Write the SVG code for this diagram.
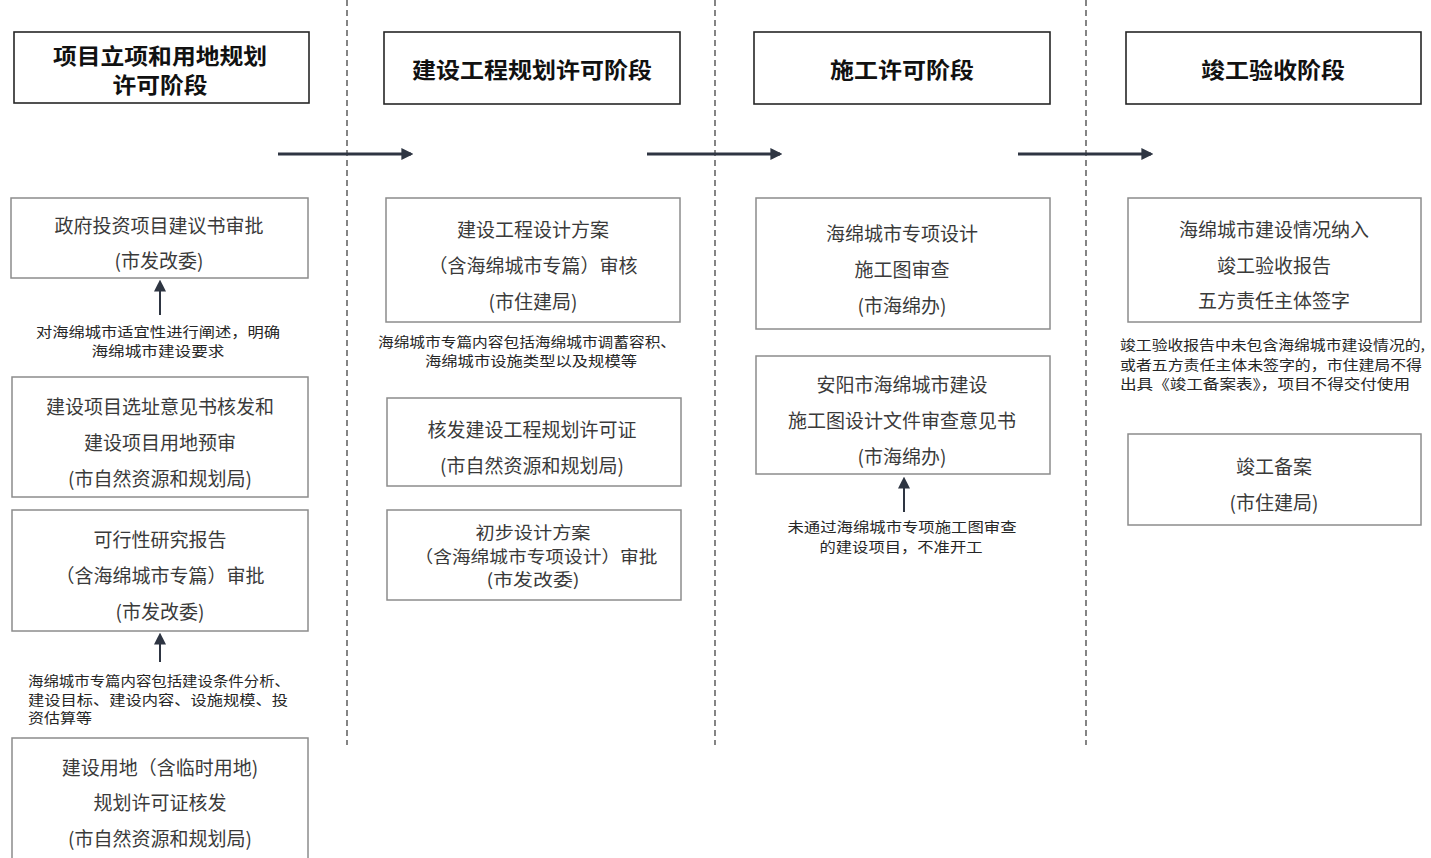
<svg xmlns="http://www.w3.org/2000/svg" width="1431" height="858" viewBox="0 0 1431 858">
<style>
.hdr{fill:#fff;stroke:#262626;stroke-width:1.6}
.box{fill:#fff;stroke:#8c8c8c;stroke-width:1.5}
.ht{font-family:"Noto Sans CJK SC","Liberation Sans",sans-serif;font-weight:700;font-size:22px;fill:#111;text-anchor:middle;dominant-baseline:central}
.bt{font-family:"Noto Sans CJK SC","Liberation Sans",sans-serif;font-size:19px;fill:#3a3a3a;text-anchor:middle;dominant-baseline:central}
.bs{font-size:17px}
.nt{font-family:"Noto Sans CJK SC","Liberation Sans",sans-serif;font-size:14px;fill:#262626;dominant-baseline:central}
.c{text-anchor:middle}
.sep{stroke:#444;stroke-width:1.3;stroke-dasharray:6,4}
.arr{stroke:#2e3542;stroke-width:3;fill:none}
.up{stroke:#2e3542;stroke-width:2;fill:none}
</style>
<defs>
<marker id="ah" viewBox="0 0 10 10" refX="8" refY="5" markerWidth="4" markerHeight="4" orient="auto"><path d="M0,0L10,5L0,10z" fill="#2e3542"/></marker>
<marker id="ah2" viewBox="0 0 10 10" refX="8" refY="5" markerWidth="6" markerHeight="6" orient="auto"><path d="M0,0L10,5L0,10z" fill="#2e3542"/></marker>
</defs>
<rect width="1431" height="858" fill="#fff"/>
<g id="separators">
<line class="sep" x1="347" y1="0" x2="347" y2="745"/>
<line class="sep" x1="715" y1="0" x2="715" y2="745"/>
<line class="sep" x1="1086" y1="0" x2="1086" y2="745"/>
</g>
<g id="h1"><rect class="hdr" x="14" y="32" width="295" height="71"/><text class="ht" x="160" y="54" textLength="214" lengthAdjust="spacingAndGlyphs">项目立项和用地规划</text><text class="ht" x="160" y="83" textLength="95" lengthAdjust="spacingAndGlyphs">许可阶段</text></g>
<g id="h2"><rect class="hdr" x="384" y="32" width="296" height="72"/><text class="ht" x="532" y="68" textLength="240" lengthAdjust="spacingAndGlyphs">建设工程规划许可阶段</text></g>
<g id="h3"><rect class="hdr" x="754" y="32" width="296" height="72"/><text class="ht" x="902" y="68" textLength="144" lengthAdjust="spacingAndGlyphs">施工许可阶段</text></g>
<g id="h4"><rect class="hdr" x="1126" y="32" width="295" height="72"/><text class="ht" x="1273" y="68" textLength="144" lengthAdjust="spacingAndGlyphs">竣工验收阶段</text></g>

<g id="c1b1"><rect class="box" x="11" y="198" width="297" height="80"/><text class="bt" x="159" y="224">政府投资项目建议书审批</text><text class="bt" x="159" y="259">(市发改委)</text></g>
<g id="c1n1"><text class="nt c" x="158" y="331" textLength="244" lengthAdjust="spacingAndGlyphs">对海绵城市适宜性进行阐述，明确</text><text class="nt c" x="158" y="350" textLength="133" lengthAdjust="spacingAndGlyphs">海绵城市建设要求</text></g>
<g id="c1b2"><rect class="box" x="12" y="377" width="296" height="120"/><text class="bt" x="160" y="405">建设项目选址意见书核发和</text><text class="bt" x="160" y="441">建设项目用地预审</text><text class="bt" x="160" y="477">(市自然资源和规划局)</text></g>
<g id="c1b3"><rect class="box" x="12" y="510" width="296" height="121"/><text class="bt" x="160" y="538">可行性研究报告</text><text class="bt" x="160" y="574">（含海绵城市专篇）审批</text><text class="bt" x="160" y="610">(市发改委)</text></g>
<g id="c1n2"><text class="nt" x="28" y="680" textLength="262" lengthAdjust="spacingAndGlyphs">海绵城市专篇内容包括建设条件分析、</text><text class="nt" x="28" y="699" textLength="260" lengthAdjust="spacingAndGlyphs">建设目标、建设内容、设施规模、投</text><text class="nt" x="28" y="717" textLength="64" lengthAdjust="spacingAndGlyphs">资估算等</text></g>
<g id="c1b4"><rect class="box" x="12" y="738" width="296" height="130"/><text class="bt" x="160" y="766">建设用地（含临时用地)</text><text class="bt" x="160" y="801">规划许可证核发</text><text class="bt" x="160" y="837">(市自然资源和规划局)</text></g>

<g id="c2b1"><rect class="box" x="386" y="198" width="294" height="124"/><text class="bt" x="533" y="228">建设工程设计方案</text><text class="bt" x="533" y="264">（含海绵城市专篇）审核</text><text class="bt" x="533" y="300">(市住建局)</text></g>
<g id="c2n1"><text class="nt c" x="527" y="341" textLength="298" lengthAdjust="spacingAndGlyphs">海绵城市专篇内容包括海绵城市调蓄容积、</text><text class="nt c" x="531" y="360" textLength="212" lengthAdjust="spacingAndGlyphs">海绵城市设施类型以及规模等</text></g>
<g id="c2b2"><rect class="box" x="387" y="398" width="294" height="88"/><text class="bt" x="532" y="428">核发建设工程规划许可证</text><text class="bt" x="532" y="464">(市自然资源和规划局)</text></g>
<g id="c2b3"><rect class="box" x="387" y="510" width="294" height="90"/><text class="bt bs" x="533" y="531" textLength="115" lengthAdjust="spacingAndGlyphs">初步设计方案</text><text class="bt bs" x="536" y="555" textLength="243" lengthAdjust="spacingAndGlyphs">（含海绵城市专项设计）审批</text><text class="bt bs" x="533" y="578" textLength="93" lengthAdjust="spacingAndGlyphs">(市发改委)</text></g>

<g id="c3b1"><rect class="box" x="756" y="198" width="294" height="131"/><text class="bt" x="902" y="232">海绵城市专项设计</text><text class="bt" x="902" y="268">施工图审查</text><text class="bt" x="902" y="304">(市海绵办)</text></g>
<g id="c3b2"><rect class="box" x="756" y="356" width="294" height="118"/><text class="bt" x="902" y="383">安阳市海绵城市建设</text><text class="bt" x="902" y="419">施工图设计文件审查意见书</text><text class="bt" x="902" y="455">(市海绵办)</text></g>
<g id="c3n1"><text class="nt c" x="902" y="526" textLength="229" lengthAdjust="spacingAndGlyphs">未通过海绵城市专项施工图审查</text><text class="nt c" x="901" y="546" textLength="163" lengthAdjust="spacingAndGlyphs">的建设项目，不准开工</text></g>

<g id="c4b1"><rect class="box" x="1128" y="198" width="293" height="124"/><text class="bt" x="1274" y="228">海绵城市建设情况纳入</text><text class="bt" x="1274" y="264">竣工验收报告</text><text class="bt" x="1274" y="299">五方责任主体签字</text></g>
<g id="c4n1"><text class="nt" x="1120" y="344" textLength="305" lengthAdjust="spacingAndGlyphs">竣工验收报告中未包含海绵城市建设情况的,</text><text class="nt" x="1120" y="364" textLength="302" lengthAdjust="spacingAndGlyphs">或者五方责任主体未签字的，市住建局不得</text><text class="nt" x="1120" y="383" textLength="290" lengthAdjust="spacingAndGlyphs">出具《竣工备案表》，项目不得交付使用</text></g>
<g id="c4b2"><rect class="box" x="1128" y="434" width="293" height="91"/><text class="bt" x="1274" y="465">竣工备案</text><text class="bt" x="1274" y="501">(市住建局)</text></g>

<g id="connectors">
<line class="arr" x1="278" y1="154" x2="411" y2="154" marker-end="url(#ah)"/>
<line class="arr" x1="647" y1="154" x2="780" y2="154" marker-end="url(#ah)"/>
<line class="arr" x1="1018" y1="154" x2="1151" y2="154" marker-end="url(#ah)"/>
<line class="up" x1="160" y1="315" x2="160" y2="282" marker-end="url(#ah2)"/>
<line class="up" x1="160" y1="662" x2="160" y2="635" marker-end="url(#ah2)"/>
<line class="up" x1="904" y1="512" x2="904" y2="479" marker-end="url(#ah2)"/>
</g>
</svg>
